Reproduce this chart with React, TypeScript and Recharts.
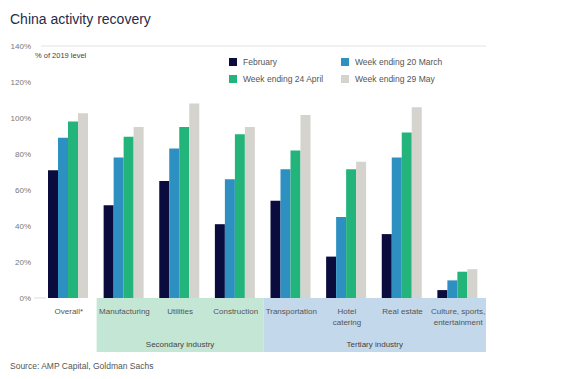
import React from 'react';
import {
  BarChart,
  Bar,
  XAxis,
  YAxis,
  Legend,
  ReferenceLine,
  ReferenceArea,
} from 'recharts';

const categories = [
  'Overall*',
  'Manufacturing',
  'Utilities',
  'Construction',
  'Transportation',
  'Hotel\ncatering',
  'Real estate',
  'Culture, sports,\nentertainment',
];
const february = [71, 51.5, 65, 41, 54, 23, 35.5, 4.4];
const weekMar20 = [89, 78, 83, 66, 71.5, 45, 78, 9.8];
const weekApr24 = [98, 89.6, 95, 91, 82, 71.5, 92, 14.6];
const weekMay29 = [102.6, 95, 108, 95, 101.7, 75.7, 106, 16];
const yTicks = [0, 20, 40, 60, 80, 100, 120, 140];

const data = categories.map((name, i) => ({
  name,
  feb: february[i],
  mar: weekMar20[i],
  apr: weekApr24[i],
  may: weekMay29[i],
}));

const FONT = '"Liberation Sans", Arial, sans-serif';

const YTick = (props: any) => {
  const { x, y, payload } = props;
  return (
    <g>
      <text x={x} y={y} dy={3} textAnchor="end" fontSize={8} fill="#777" fontFamily={FONT}>
        {payload.value}%
      </text>
      {payload.value === 0 && <line x1={x + 3} x2={x + 15} y1={y} y2={y} stroke="#ddd" />}
    </g>
  );
};

const XTick = (props: any) => {
  const { x, y, payload } = props;
  const lines = String(payload.value).split('\n');
  return (
    <text x={x} y={y} textAnchor="middle" fontSize={8} fill="#555" fontFamily={FONT}>
      {lines.map((l, i) => (
        <tspan key={i} x={x} dy={i === 0 ? 8 : 11}>
          {l}
        </tspan>
      ))}
    </text>
  );
};

const LegendGrid = (props: any) => {
  const { payload } = props;
  return (
    <div
      style={{
        display: 'grid',
        gridTemplateColumns: '112px auto',
        rowGap: 7,
        fontFamily: FONT,
        fontSize: 8.5,
        color: '#555',
      }}
    >
      {payload.map((p: any) => (
        <div key={p.value} style={{ display: 'flex', alignItems: 'center' }}>
          <span style={{ width: 8, height: 8, background: p.color, marginRight: 6, display: 'inline-block' }} />
          {p.value}
        </div>
      ))}
    </div>
  );
};

export default function App() {
  return (
    <div style={{ position: 'absolute', left: 0, top: 0, width: 570, height: 379, background: '#fff' }}>
      <div
        style={{
          position: 'absolute',
          left: 10,
          top: 11,
          fontFamily: FONT,
          fontSize: 14,
          color: '#262b4a',
        }}
      >
        China activity recovery
      </div>
      <div style={{ position: 'absolute', left: 35, top: 51, fontFamily: FONT, fontSize: 7.5, color: '#444' }}>
        % of 2019 level
      </div>
      <div style={{ position: 'absolute', left: 10, top: 361, fontFamily: FONT, fontSize: 8.5, color: '#555' }}>
        Source: AMP Capital, Goldman Sachs
      </div>
      <BarChart
        width={570}
        height={379}
        data={data}
        margin={{ top: 20, right: 84, left: 8, bottom: 27 }}
        barCategoryGap={7}
        barGap={0}
      >
        <ReferenceArea
          x1="Manufacturing"
          x2="Construction"
          y1={-30}
          y2={0}
          ifOverflow="visible"
          fill="#c4e6d4"
          fillOpacity={1}
          stroke="none"
          label={{ value: 'Secondary industry', position: 'insideBottom', offset: 5, fontSize: 8, fill: '#444', fontFamily: FONT }}
        />
        <ReferenceArea
          x1="Transportation"
          x2={'Culture, sports,\nentertainment'}
          y1={-30}
          y2={0}
          ifOverflow="visible"
          fill="#c3d8ea"
          fillOpacity={1}
          stroke="none"
          label={{ value: 'Tertiary industry', position: 'insideBottom', offset: 5, fontSize: 8, fill: '#444', fontFamily: FONT }}
        />
        <XAxis dataKey="name" interval={0} tick={<XTick />} tickLine={false} axisLine={false} height={54} />
        <YAxis
          domain={[0, 140]}
          ticks={yTicks}
          tick={<YTick />}
          tickLine={false}
          axisLine={false}
          width={33}
          tickMargin={4}
        />
        <ReferenceLine y={140} stroke="#e2e2e2" />
        <Legend
          verticalAlign="top"
          content={<LegendGrid />}
          wrapperStyle={{ position: 'absolute', top: 57, left: 229, width: 240, height: 26 }}
        />
        <Bar dataKey="feb" name="February" fill="#0b0c3e" isAnimationActive={false} />
        <Bar dataKey="mar" name="Week ending 20 March" fill="#2e8fc1" isAnimationActive={false} />
        <Bar dataKey="apr" name="Week ending 24 April" fill="#22b47a" isAnimationActive={false} />
        <Bar dataKey="may" name="Week ending 29 May" fill="#d4d3cd" isAnimationActive={false} />
      </BarChart>
    </div>
  );
}
